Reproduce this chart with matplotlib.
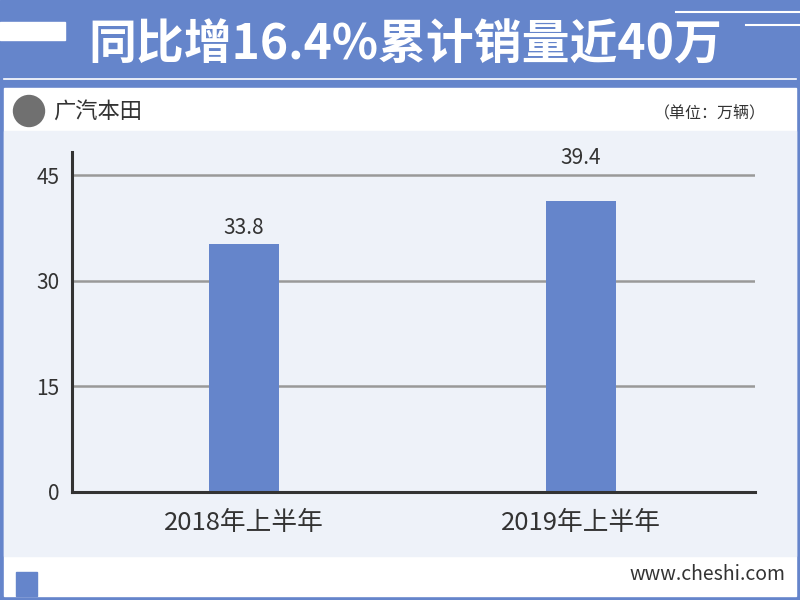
import matplotlib.pyplot as plt
from matplotlib.patches import Rectangle, Circle

plt.rcParams['font.family'] = ['Noto Sans CJK SC', 'DejaVu Sans']

# Dados
categorias = ['2018年上半年', '2019年上半年']
alturas = [35.2, 41.3]          # altura desenhada das barras
rotulos = ['33.8', '39.4']      # texto mostrado acima das barras
deslocamentos = [12, 31.5]      # distância do rótulo ao topo (pt)
yticks = [0, 15, 30, 45]

titulo = '同比增16.4%累计销量近40万'
marca = '广汽本田'
unidade = '（单位：万辆）'
site = 'www.cheshi.com'

azul = '#6585CB'
fundo = '#EEF2F9'
texto = '#333333'

fig = plt.figure(figsize=(8, 6), dpi=100)

# Camada de fundo em coordenadas de pixel
bg = fig.add_axes([0, 0, 1, 1], zorder=0)
bg.set_xlim(0, 800)
bg.set_ylim(600, 0)
bg.axis('off')

bg.add_patch(Rectangle((0, 0), 800, 600, color=azul))
bg.add_patch(Rectangle((4, 88), 792, 508, color='white'))
bg.add_patch(Rectangle((4, 131), 792, 425, color=fundo))
bg.add_patch(Rectangle((0, 22), 65, 18, color='white'))
bg.plot([676, 800], [12, 12], color='white', lw=1.5)
bg.plot([746, 800], [25, 25], color='white', lw=1.5)
bg.plot([4, 796], [79, 79], color='white', lw=1.2)
bg.add_patch(Rectangle((16, 572), 21, 24, color=azul))
bg.add_patch(Circle((29, 111), 15.5, color='#707070'))

bg.text(405, 45, titulo, color='white', fontsize=34.5, fontweight='bold',
        ha='center', va='center')
bg.text(53, 111, marca, color=texto, fontsize=16, ha='left', va='center')
bg.text(766, 113, unidade, color=texto, fontsize=11.5, ha='right', va='center')
bg.text(785, 575, site, color=texto, fontsize=14, ha='right', va='center')

# Gráfico de barras
ax = fig.add_axes([72 / 800, 1 - 492 / 600, (755 - 72) / 800, (492 - 152) / 600], zorder=1)
ax.set_facecolor('none')
x = range(len(categorias))
ax.bar(x, alturas, width=0.208, color=azul, zorder=3)

for i, (h, r, d) in enumerate(zip(alturas, rotulos, deslocamentos)):
    ax.annotate(r, (i, h), xytext=(0, d), textcoords='offset points',
                ha='center', va='center', fontsize=15, color=texto)

ax.set_xlim(-0.51, 1.516)
ax.set_ylim(0, 48.3)
ax.set_yticks(yticks)
ax.set_yticklabels([str(v) for v in yticks])
ax.set_xticks(list(x))
ax.set_xticklabels(categorias)
ax.yaxis.grid(True, color='#999999', lw=1.8, zorder=1)
ax.set_axisbelow(True)
ax.tick_params(axis='both', length=0, colors=texto)
ax.tick_params(axis='y', labelsize=15, pad=9)
ax.tick_params(axis='x', labelsize=18.5, pad=13)
for s in ['top', 'right']:
    ax.spines[s].set_visible(False)
for s in ['left', 'bottom']:
    ax.spines[s].set_color(texto)
    ax.spines[s].set_linewidth(2.2)
    ax.spines[s].set_zorder(4)

plt.savefig('out.png', dpi=100)
